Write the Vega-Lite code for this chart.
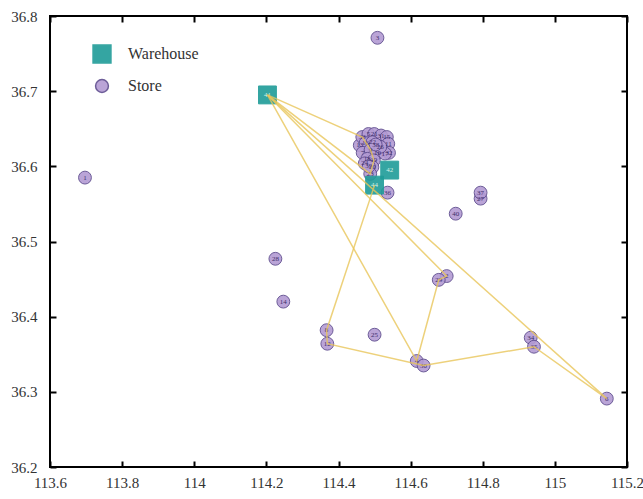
{
  "$schema": "https://vega.github.io/schema/vega-lite/v6.json",
  "width": 577,
  "height": 451,
  "autosize": {"type": "none"},
  "padding": {"left": 50, "top": 16, "right": 16, "bottom": 32},
  "background": "white",
  "config": {
    "font": "Liberation Serif",
    "view": {"stroke": "black", "strokeWidth": 2},
    "axis": {
      "domain": false,
      "grid": false,
      "ticks": true,
      "tickColor": "black",
      "tickWidth": 2,
      "tickSize": -6,
      "labelFlush": false,
      "labelOverlap": false,
      "labelFont": "Liberation Serif, DejaVu Serif, serif",
      "labelFontSize": 15,
      "labelColor": "#333333",
      "title": null
    },
    "legend": {
      "labelFont": "Liberation Serif, DejaVu Serif, serif",
      "labelFontSize": 16,
      "labelColor": "#333333"
    }
  },
  "datasets": {
    "points": [
      {"id": "1", "lon": 113.697, "lat": 36.585, "type": "Store"},
      {"id": "2", "lon": 114.700, "lat": 36.454, "type": "Store"},
      {"id": "3", "lon": 114.508, "lat": 36.771, "type": "Store"},
      {"id": "4", "lon": 114.617, "lat": 36.341, "type": "Store"},
      {"id": "6", "lon": 115.144, "lat": 36.291, "type": "Store"},
      {"id": "8", "lon": 114.367, "lat": 36.382, "type": "Store"},
      {"id": "12", "lon": 114.369, "lat": 36.364, "type": "Store"},
      {"id": "14", "lon": 114.247, "lat": 36.420, "type": "Store"},
      {"id": "25", "lon": 114.500, "lat": 36.376, "type": "Store"},
      {"id": "27", "lon": 114.794, "lat": 36.557, "type": "Store"},
      {"id": "28", "lon": 114.225, "lat": 36.477, "type": "Store"},
      {"id": "29", "lon": 114.678, "lat": 36.449, "type": "Store"},
      {"id": "30", "lon": 114.636, "lat": 36.335, "type": "Store"},
      {"id": "34", "lon": 114.933, "lat": 36.372, "type": "Store"},
      {"id": "35", "lon": 114.942, "lat": 36.360, "type": "Store"},
      {"id": "36", "lon": 114.536, "lat": 36.565, "type": "Store"},
      {"id": "37", "lon": 114.794, "lat": 36.565, "type": "Store"},
      {"id": "40", "lon": 114.725, "lat": 36.537, "type": "Store"},
      {"id": "13", "lon": 114.459, "lat": 36.628, "type": "Store"},
      {"id": "33", "lon": 114.466, "lat": 36.639, "type": "Store"},
      {"id": "5", "lon": 114.483, "lat": 36.643, "type": "Store"},
      {"id": "21", "lon": 114.499, "lat": 36.643, "type": "Store"},
      {"id": "31", "lon": 114.518, "lat": 36.641, "type": "Store"},
      {"id": "15", "lon": 114.534, "lat": 36.639, "type": "Store"},
      {"id": "16", "lon": 114.475, "lat": 36.631, "type": "Store"},
      {"id": "22", "lon": 114.494, "lat": 36.632, "type": "Store"},
      {"id": "11", "lon": 114.538, "lat": 36.630, "type": "Store"},
      {"id": "32", "lon": 114.540, "lat": 36.618, "type": "Store"},
      {"id": "7", "lon": 114.467, "lat": 36.618, "type": "Store"},
      {"id": "9", "lon": 114.489, "lat": 36.622, "type": "Store"},
      {"id": "10", "lon": 114.508, "lat": 36.618, "type": "Store"},
      {"id": "17", "lon": 114.529, "lat": 36.617, "type": "Store"},
      {"id": "18", "lon": 114.480, "lat": 36.610, "type": "Store"},
      {"id": "19", "lon": 114.498, "lat": 36.608, "type": "Store"},
      {"id": "20", "lon": 114.494, "lat": 36.599, "type": "Store"},
      {"id": "23", "lon": 114.488, "lat": 36.590, "type": "Store"},
      {"id": "24", "lon": 114.473, "lat": 36.604, "type": "Store"},
      {"id": "26", "lon": 114.516, "lat": 36.626, "type": "Store"},
      {"id": "38", "lon": 114.503, "lat": 36.629, "type": "Store"},
      {"id": "39", "lon": 114.484, "lat": 36.600, "type": "Store"},
      {"id": "41", "lon": 114.203, "lat": 36.695, "type": "Warehouse"},
      {"id": "42", "lon": 114.542, "lat": 36.595, "type": "Warehouse"},
      {"id": "44", "lon": 114.500, "lat": 36.575, "type": "Warehouse"}
    ],
    "routes": [
      {"route": "A", "seq": 1, "lon": 114.203, "lat": 36.695},
      {"route": "A", "seq": 2, "lon": 115.144, "lat": 36.291},
      {"route": "A", "seq": 3, "lon": 114.942, "lat": 36.360},
      {"route": "A", "seq": 4, "lon": 114.636, "lat": 36.335},
      {"route": "A", "seq": 5, "lon": 114.369, "lat": 36.364},
      {"route": "A", "seq": 6, "lon": 114.367, "lat": 36.382},
      {"route": "A", "seq": 7, "lon": 114.500, "lat": 36.575},
      {"route": "B", "seq": 1, "lon": 114.203, "lat": 36.695},
      {"route": "B", "seq": 2, "lon": 114.700, "lat": 36.454},
      {"route": "B", "seq": 3, "lon": 114.678, "lat": 36.449},
      {"route": "B", "seq": 4, "lon": 114.617, "lat": 36.341},
      {"route": "B", "seq": 5, "lon": 114.203, "lat": 36.695},
      {"route": "C", "seq": 1, "lon": 114.203, "lat": 36.695},
      {"route": "C", "seq": 2, "lon": 114.466, "lat": 36.639},
      {"route": "C", "seq": 3, "lon": 114.489, "lat": 36.622},
      {"route": "C", "seq": 4, "lon": 114.498, "lat": 36.608},
      {"route": "C", "seq": 5, "lon": 114.488, "lat": 36.590},
      {"route": "C", "seq": 6, "lon": 114.203, "lat": 36.695}
    ]
  },
  "resolve": {"axis": {"x": "independent", "y": "independent"}},
  "layer": [
    {
      "data": {"name": "points"},
      "mark": {"type": "point", "filled": true, "strokeWidth": 1, "opacity": 0.9},
      "encoding": {
        "x": {
          "field": "lon", "type": "quantitative",
          "scale": {"domain": [113.6, 115.2], "nice": false, "zero": false},
          "axis": {"values": [113.6, 113.8, 114, 114.2, 114.4, 114.6, 114.8, 115, 115.2], "format": "~f", "labelPadding": 14}
        },
        "y": {
          "field": "lat", "type": "quantitative",
          "scale": {"domain": [36.2, 36.8], "nice": false, "zero": false},
          "axis": {"values": [36.2, 36.3, 36.4, 36.5, 36.6, 36.7, 36.8], "format": ".1f", "labelPadding": 19}
        },
        "shape": {
          "field": "type", "type": "nominal",
          "scale": {"domain": ["Warehouse", "Store"], "range": ["square", "circle"]},
          "legend": {"title": null, "orient": "none", "legendX": 42, "legendY": 28, "padding": 0, "rowPadding": 10, "labelOffset": 16}
        },
        "color": {
          "field": "type", "type": "nominal",
          "scale": {"domain": ["Warehouse", "Store"], "range": ["#1f9c98", "#b39bd3"]},
          "legend": {"title": null, "orient": "none", "legendX": 42, "legendY": 28, "padding": 0, "rowPadding": 10, "labelOffset": 16}
        },
        "size": {
          "field": "type", "type": "nominal",
          "scale": {"domain": ["Warehouse", "Store"], "range": [320, 165]},
          "legend": {"title": null, "orient": "none", "legendX": 42, "legendY": 28, "padding": 0, "rowPadding": 10, "labelOffset": 16}
        },
        "stroke": {
          "field": "type", "type": "nominal",
          "scale": {"domain": ["Warehouse", "Store"], "range": ["#1f9c98", "#5e4c8e"]},
          "legend": {"title": null, "orient": "none", "legendX": 42, "legendY": 28, "padding": 0, "rowPadding": 10, "labelOffset": 16}
        }
      }
    },
    {
      "data": {"name": "points"},
      "mark": {"type": "text", "fontSize": 7, "font": "Liberation Serif", "baseline": "middle", "align": "center"},
      "encoding": {
        "x": {"field": "lon", "type": "quantitative", "axis": null},
        "y": {"field": "lat", "type": "quantitative", "axis": null},
        "text": {"field": "id", "type": "nominal"},
        "color": {
          "condition": {"test": "datum.type === 'Warehouse'", "value": "#d8f2e6"},
          "value": "#3d2d6a"
        }
      }
    },
    {
      "data": {"name": "routes"},
      "mark": {"type": "line", "color": "#e8c55a", "strokeWidth": 1.5, "opacity": 0.8},
      "encoding": {
        "x": {"field": "lon", "type": "quantitative", "axis": {"orient": "top", "labels": false, "values": [113.6, 113.8, 114, 114.2, 114.4, 114.6, 114.8, 115, 115.2]}},
        "y": {"field": "lat", "type": "quantitative", "axis": {"orient": "right", "labels": false, "values": [36.2, 36.3, 36.4, 36.5, 36.6, 36.7, 36.8]}},
        "detail": {"field": "route", "type": "nominal"},
        "order": {"field": "seq", "type": "quantitative"}
      }
    }
  ]
}
